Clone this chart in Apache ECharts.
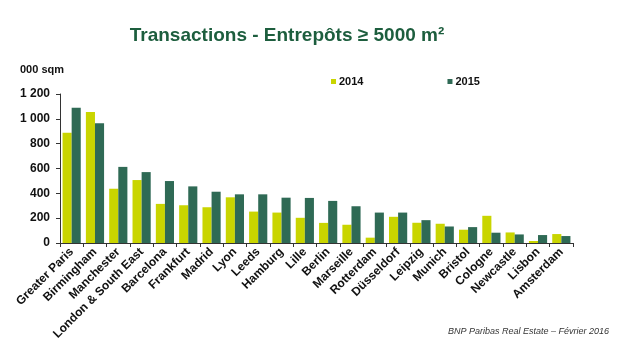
<!DOCTYPE html>
<html><head><meta charset="utf-8">
<script src="https://cdn.jsdelivr.net/npm/echarts@6/dist/echarts.min.js"></script>
<style>html,body{margin:0;padding:0;background:#fff}#c{width:620px;height:359px}</style>
</head><body><div id="c"></div>
<script>
const categories = ["Greater Paris","Birmingham","Manchester","London & South East","Barcelona","Frankfurt","Madrid","Lyon","Leeds","Hamburg","Lille","Berlin","Marseille","Rotterdam","Düsseldorf","Leipzig","Munich","Bristol","Cologne","Newcastle","Lisbon","Amsterdam"];
const values2014 = [888,1055,437,507,315,304,288,368,253,245,203,162,147,43,211,163,155,107,219,85,16,72];
const values2015 = [1090,965,613,571,499,456,413,392,392,365,363,339,296,245,245,184,133,128,83,69,64,56];
const yTicks = [0,200,400,600,800,1000,1200];
const title = "Transactions - Entrepôts ≥ 5000 m²";
const unit = "000 sqm";
const source = "BNP Paribas Real Estate – Février 2016";

const chart = echarts.init(document.getElementById('c'), null, {renderer:'canvas'});
const font = 'Arial, "Liberation Sans", sans-serif';
chart.setOption({
  animation:false,
  backgroundColor:'#fff',
  title:[
    {text:title, left:282, top:21, textAlign:'center',
     textStyle:{fontFamily:font, fontSize:19, fontWeight:'bold', color:'#1d5e3e'}},
    {text:unit, left:15, top:59, textStyle:{fontFamily:font, fontSize:11, fontWeight:'bold', color:'#111'}},
    {text:source, right:6, top:322, textStyle:{fontFamily:font, fontSize:9, fontStyle:'italic', color:'#333', fontWeight:'normal'}}
  ],
  legend:{
    data:['2014','2015'], left:326, top:71, itemWidth:5, itemHeight:5, itemGap:84, icon:'rect',
    textStyle:{fontFamily:font, fontSize:11, fontWeight:'bold', color:'#111', padding:[0,0,0,-2]}
  },
  grid:{left:60, right:47, top:94, bottom:116},
  xAxis:{
    type:'category', data:categories,
    axisLine:{lineStyle:{color:'#333', width:1}},
    axisTick:{show:true, alignWithLabel:false, length:4, lineStyle:{color:'#333'}},
    axisLabel:{rotate:45, interval:0, margin:7, fontFamily:font, fontSize:12, fontWeight:'bold', color:'#111'}
  },
  yAxis:{
    type:'value', min:0, max:1200, interval:200,
    splitLine:{show:false},
    axisLine:{show:true, lineStyle:{color:'#333'}},
    axisTick:{show:true, length:4, lineStyle:{color:'#333'}},
    axisLabel:{margin:10, fontFamily:font, fontSize:12, fontWeight:'bold', color:'#111',
      formatter:v => yTicks.includes(v) ? String(v).replace(/\B(?=(\d{3})+(?!\d))/g,' ') : ''}
  },
  series:[
    {name:'2014', type:'bar', data:values2014, barGap:'0%', barCategoryGap:'22%', itemStyle:{color:'#c9d500'}},
    {name:'2015', type:'bar', data:values2015, barGap:'0%', barCategoryGap:'22%', itemStyle:{color:'#2f6a55'}}
  ]
});
</script></body></html>
